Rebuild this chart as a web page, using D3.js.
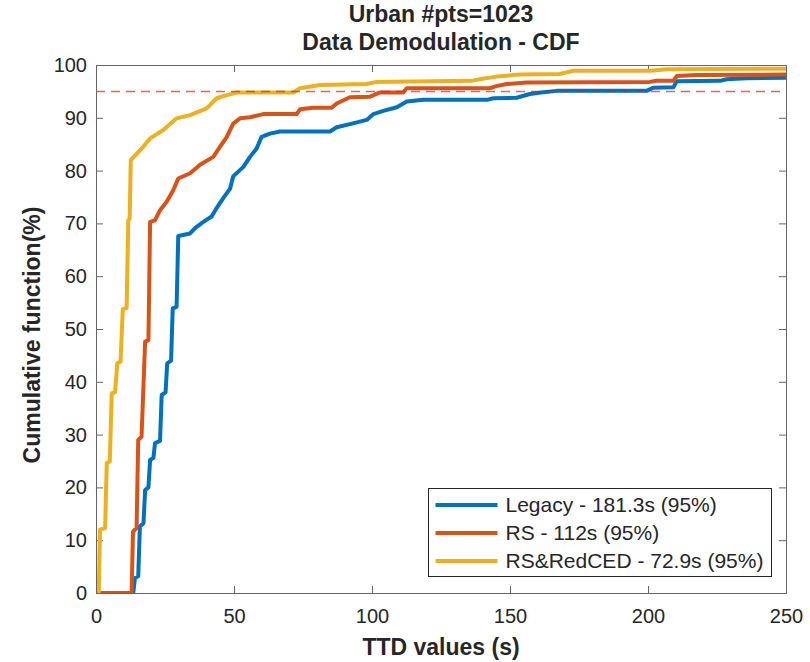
<!DOCTYPE html>
<html>
<head>
<meta charset="utf-8">
<script src="https://cdn.jsdelivr.net/npm/d3@7"></script>
<style>
  body { margin: 0; background: #fff; }
  text { font-family: "Liberation Sans", Arial, sans-serif; fill: #262626; }
</style>
</head>
<body>
<svg id="chart" width="810" height="662"></svg>
<script>
// CDF curves (TTD in s, cumulative %)
var legacyX = [0, 13.5, 14.1, 15.3, 15.9, 17.2, 17.8, 19.0, 19.6, 20.8, 21.4, 23.2, 23.8, 25.2, 25.8, 27.2, 27.8, 29.2, 29.8, 34.1, 35.9, 38.9, 41.9, 43.7, 46.1, 48.6, 49.7, 53.4, 55.8, 58.2, 60, 63, 66.7, 84.8, 87.2, 92, 98.1, 100.5, 104.1, 109, 112.6, 118.6, 141.6, 144, 152.4, 157.2, 161.2, 166.9, 199.5, 201.9, 209.2, 210.4, 226.1, 228.5, 235.7, 250];
var legacyY = [0, 0, 2.8, 3.2, 12.6, 13.2, 19.5, 20, 25.2, 25.6, 28.4, 28.8, 37.5, 38, 43.5, 44, 53.9, 54.2, 67.6, 68.1, 69.1, 70.3, 71.3, 72.9, 74.8, 76.6, 78.9, 80.7, 82.6, 84.2, 86.4, 87, 87.4, 87.4, 88.2, 88.8, 89.6, 90.7, 91.3, 92, 93.1, 93.4, 93.4, 93.7, 93.8, 94.5, 94.8, 95.1, 95.1, 95.7, 95.8, 96.9, 97.0, 97.3, 97.5, 97.6];

var rsX = [0, 12.9, 13.4, 14.1, 14.7, 15.3, 16.5, 17.8, 19.0, 19.6, 21.4, 23.2, 25.6, 28.0, 29.8, 34.1, 37.7, 42.5, 44.9, 47.4, 49.7, 52.2, 55.8, 60.6, 72.7, 73.9, 78.7, 85.4, 87.2, 92, 99.3, 102.9, 111.3, 112.6, 142.8, 145, 148.8, 156, 200.7, 203, 209.2, 210.4, 217.6, 250];
var rsY = [0, 0, 11.6, 12, 12.3, 29, 29.6, 47.6, 47.9, 70.3, 70.6, 72.5, 74.1, 76.3, 78.5, 79.5, 81.1, 82.6, 84.5, 86.4, 88.9, 89.9, 90.1, 90.7, 90.7, 91.6, 91.9, 91.9, 92.7, 93.9, 94.0, 94.8, 94.8, 95.6, 95.6, 96, 96.4, 96.7, 96.8, 97.0, 97.0, 97.9, 98.1, 98.2];

var redcedX = [0, 1.0, 1.45, 3.3, 3.9, 5.0, 5.7, 6.9, 7.7, 8.9, 9.7, 11.1, 11.7, 12.2, 12.6, 13.5, 17.1, 19.6, 24.4, 29.2, 34.1, 40.1, 43.7, 47.4, 51, 71.5, 73.9, 81.2, 98, 101.7, 136, 140, 145.2, 153.6, 168, 173, 200.7, 207, 250];
var redcedY = [0, 0, 12, 12.3, 24.6, 24.9, 37.8, 38, 43.5, 43.8, 53.7, 54, 70.6, 70.9, 82, 82.5, 84.5, 86.1, 87.7, 89.9, 90.5, 91.8, 93.7, 94.3, 94.8, 94.8, 95.6, 96.2, 96.4, 96.8, 97.0, 97.4, 97.8, 98.2, 98.3, 98.9, 98.9, 99.2, 99.3];

var seriesNames = ["Legacy - 181.3s (95%)", "RS - 112s (95%)", "RS&RedCED - 72.9s (95%)"];
var seriesColors = ["#0072BD", "#D95319", "#EDB120"];
var xTicks = [0, 50, 100, 150, 200, 250];
var yTicks = [0, 10, 20, 30, 40, 50, 60, 70, 80, 90, 100];
var threshold = 95;

var series = [
    { name: seriesNames[0], color: seriesColors[0], xs: legacyX, ys: legacyY },
    { name: seriesNames[1], color: seriesColors[1], xs: rsX, ys: rsY },
    { name: seriesNames[2], color: seriesColors[2], xs: redcedX, ys: redcedY }
];

var margin = { left: 96, right: 24, top: 65, bottom: 69 },
    W = 810, H = 662,
    w = W - margin.left - margin.right,
    h = H - margin.top - margin.bottom;

var svg = d3.select("#chart");
var g = svg.append("g").attr("transform", `translate(${margin.left},${margin.top})`);

var x = d3.scaleLinear().domain([0, 250]).range([0, w]),
    y = d3.scaleLinear().domain([0, 100]).range([h, 0]);

g.append("clipPath").attr("id", "clip")
    .append("rect").attr("x", 0).attr("y", -3).attr("width", w).attr("height", h + 3);

// axes, ticks pointing inward like matlab
function styleAxis(sel) {
    sel.select(".domain").remove();
    sel.selectAll(".tick line").attr("stroke", "#666");
    sel.selectAll(".tick text").attr("font-size", 20).attr("fill", "#262626")
        .style("font-family", "'Liberation Sans', Arial, sans-serif");
}

g.append("g").attr("transform", `translate(0,${h})`)
    .call(d3.axisBottom(x).tickValues(xTicks).tickSizeInner(-7).tickSizeOuter(0).tickPadding(16))
    .call(styleAxis);
g.append("g")
    .call(d3.axisTop(x).tickValues(xTicks).tickSizeInner(-7).tickSizeOuter(0).tickFormat(""))
    .call(styleAxis);
g.append("g")
    .call(d3.axisLeft(y).tickValues(yTicks).tickSizeInner(-7).tickSizeOuter(0).tickPadding(9))
    .call(styleAxis);
g.append("g").attr("transform", `translate(${w},0)`)
    .call(d3.axisRight(y).tickValues(yTicks).tickSizeInner(-7).tickSizeOuter(0).tickFormat(""))
    .call(styleAxis);

var line = d3.line().x(d => x(d[0])).y(d => y(d[1]));

g.append("g").attr("clip-path", "url(#clip)")
    .selectAll("path.cdf")
    .data(series)
    .enter()
    .append("path")
    .attr("class", "cdf")
    .attr("d", s => line(s.xs.map((v, i) => [v, s.ys[i]])))
    .attr("fill", "none")
    .attr("stroke", s => s.color)
    .attr("stroke-width", 4)
    .attr("stroke-linejoin", "round");

// 95% threshold
g.append("line")
    .attr("x1", x(0)).attr("x2", x(250))
    .attr("y1", y(threshold)).attr("y2", y(threshold))
    .attr("stroke", "#e02020")
    .attr("stroke-opacity", 0.7)
    .attr("stroke-width", 1.5)
    .attr("stroke-dasharray", "9,6");

g.append("rect")
    .attr("x", 0.5).attr("y", 0.5)
    .attr("width", w).attr("height", h)
    .attr("fill", "none")
    .attr("stroke", "#666");

// legend
var lg = svg.append("g").attr("transform", "translate(428.5,488.5)");
lg.append("rect")
    .attr("width", 343).attr("height", 88)
    .attr("fill", "#fff")
    .attr("stroke", "#262626");
var rows = lg.selectAll("g.row").data(series).enter()
    .append("g").attr("class", "row")
    .attr("transform", (d, i) => `translate(0,${16.5 + i * 28})`);
rows.append("line")
    .attr("x1", 7).attr("x2", 69)
    .attr("stroke", d => d.color)
    .attr("stroke-width", 4);
rows.append("text")
    .attr("x", 77).attr("dy", "0.35em")
    .attr("font-size", 21)
    .text(d => d.name);

// titles and labels
svg.append("text")
    .attr("x", margin.left + w / 2).attr("y", 22)
    .attr("text-anchor", "middle").attr("font-size", 23).attr("font-weight", "bold")
    .text("Urban #pts=1023");
svg.append("text")
    .attr("x", margin.left + w / 2).attr("y", 49.5)
    .attr("text-anchor", "middle").attr("font-size", 23).attr("font-weight", "bold")
    .text("Data Demodulation - CDF");
svg.append("text")
    .attr("x", margin.left + w / 2).attr("y", 655)
    .attr("text-anchor", "middle").attr("font-size", 23).attr("font-weight", "bold")
    .text("TTD values (s)");
svg.append("text")
    .attr("transform", "translate(39.5,335) rotate(-90)")
    .attr("text-anchor", "middle").attr("font-size", 23).attr("font-weight", "bold")
    .text("Cumulative function(%)");
</script>
</body>
</html>
